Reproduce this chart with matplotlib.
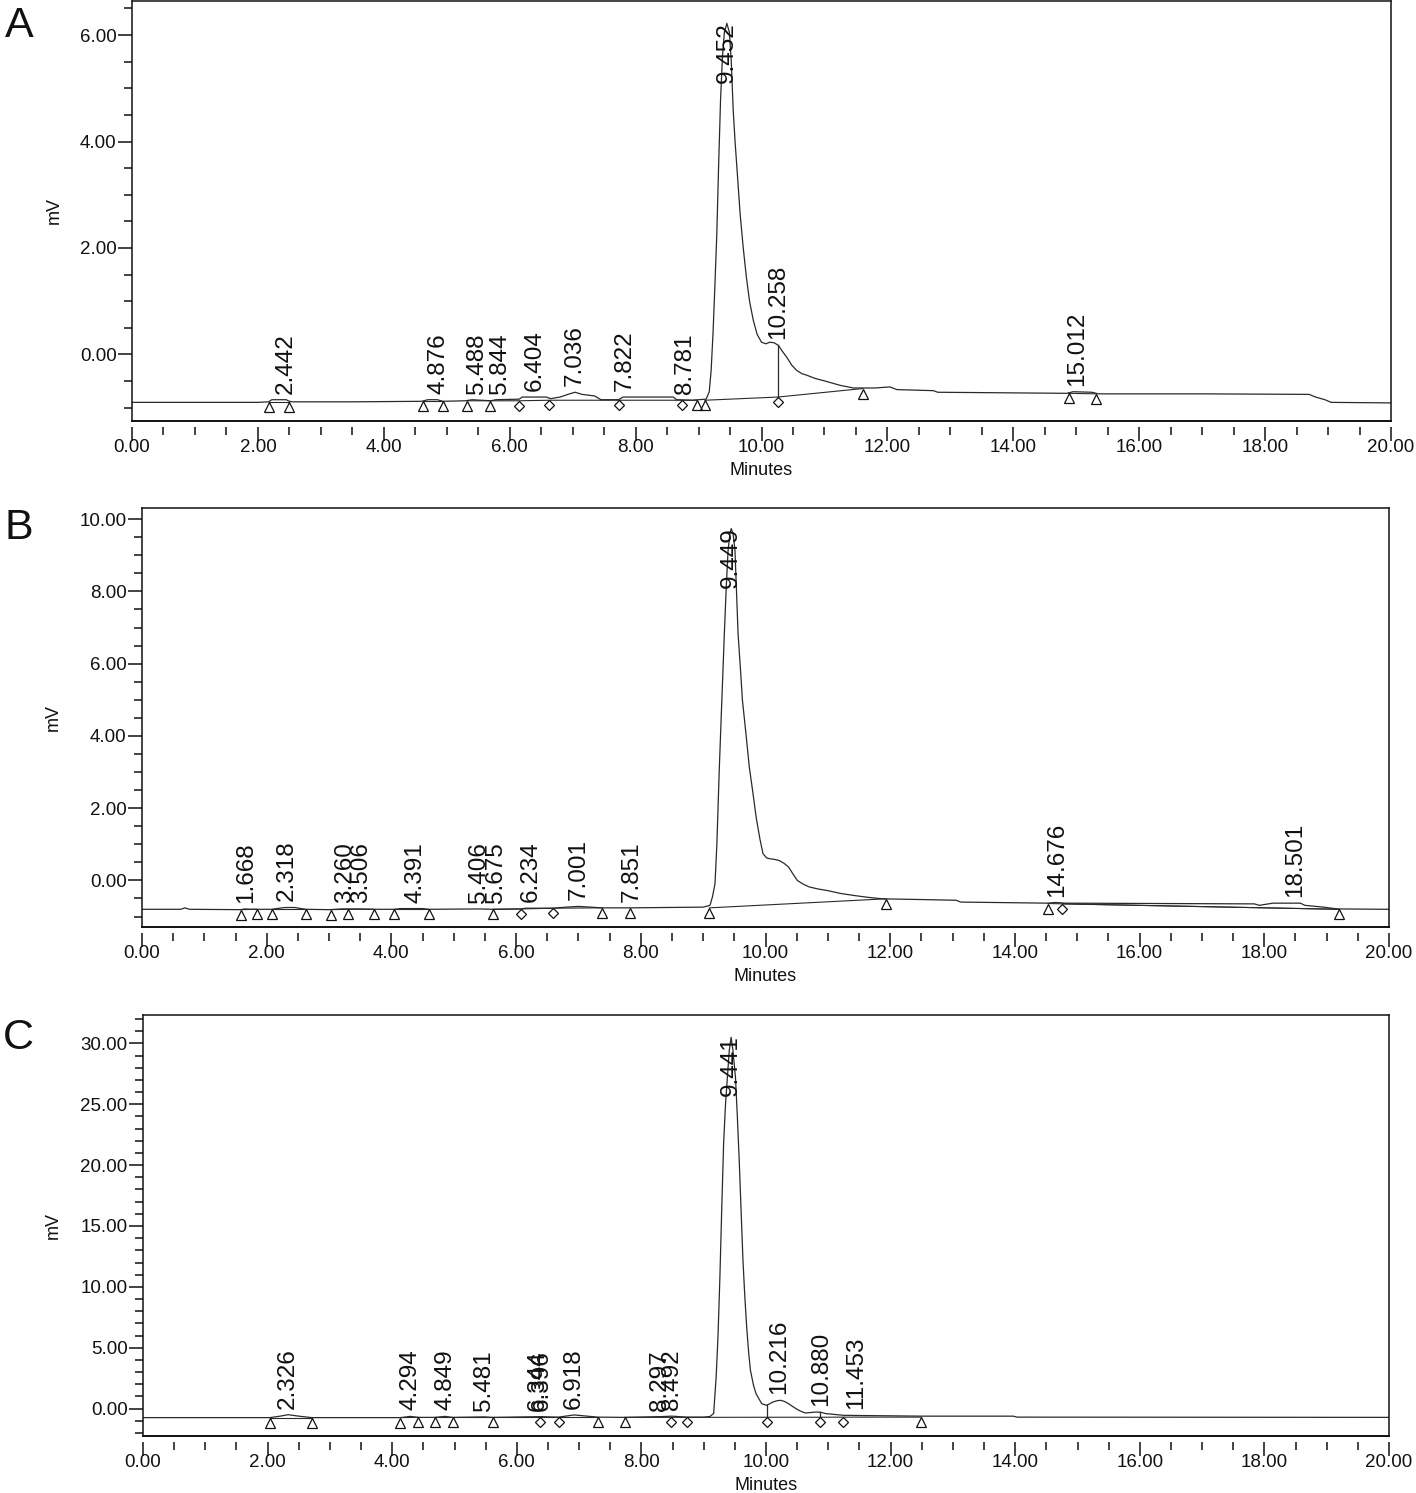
import numpy as np
import matplotlib
matplotlib.use("Agg")
import matplotlib.pyplot as plt
from matplotlib.ticker import MultipleLocator, FormatStrFormatter
from matplotlib.transforms import offset_copy

plt.rcParams['font.family'] = ['Liberation Sans', 'DejaVu Sans']

# ---------------- Panel A ----------------
a_time = [0.0, 1.0, 2.0, 2.17, 2.22, 2.45, 2.50, 2.55, 3.5, 4.6, 4.70, 4.85, 4.94, 5.3, 5.40,
          5.55, 5.70, 5.78, 6.15, 6.20, 6.58, 6.65, 6.80, 6.95, 7.04, 7.15, 7.35, 7.45, 7.73,
          7.80, 8.60, 8.65, 8.90, 9.00, 9.12, 9.17, 9.20, 9.23, 9.26, 9.29, 9.32, 9.35, 9.38,
          9.41, 9.45, 9.49, 9.52, 9.55, 9.58, 9.61, 9.66, 9.71, 9.76, 9.81, 9.87, 9.93, 10.0,
          10.07, 10.13, 10.20, 10.27, 10.33, 10.40, 10.48, 10.56, 10.64, 10.72, 10.85, 10.98,
          11.25, 11.46, 11.8, 12.04, 12.15, 12.73, 12.80, 14.85, 14.95, 15.25, 15.35, 17.0,
          18.70, 18.80, 18.95, 19.05, 20.0]
a_mv = [-0.90, -0.90, -0.90, -0.89, -0.85, -0.85, -0.88, -0.89, -0.89, -0.88, -0.85, -0.85,
        -0.88, -0.87, -0.85, -0.86, -0.87, -0.85, -0.84, -0.80, -0.80, -0.83, -0.80, -0.74,
        -0.71, -0.75, -0.78, -0.85, -0.85, -0.80, -0.80, -0.85, -0.86, -0.85, -0.84, -0.70,
        -0.30, 0.40, 1.30, 2.27, 3.60, 4.80, 5.60, 6.05, 6.22, 6.05, 5.50, 4.60, 4.00, 3.50,
        2.65, 2.00, 1.45, 1.00, 0.64, 0.38, 0.23, 0.20, 0.23, 0.22, 0.17, 0.06, -0.05, -0.20,
        -0.30, -0.36, -0.39, -0.45, -0.49, -0.58, -0.63, -0.63, -0.61, -0.66, -0.68, -0.71,
        -0.73, -0.70, -0.71, -0.74, -0.74, -0.75, -0.80, -0.85, -0.90, -0.91]
a_labels = ['2.442', '4.876', '5.488', '5.844', '6.404', '7.036', '7.822', '8.781', '9.452',
            '10.258', '15.012']
a_tri_t = [2.17, 2.50, 4.63, 4.94, 5.32, 5.69, 8.98, 9.10, 11.61, 14.88, 15.32]
a_tri_v = [-0.89, -0.89, -0.88, -0.88, -0.87, -0.87, -0.86, -0.86, -0.64, -0.73, -0.74]
a_dia_t = [6.15, 6.63, 7.73, 8.73, 10.26]
a_dia_v = [-0.87, -0.86, -0.86, -0.86, -0.80]
a_int_t = [[2.17, 2.50], [4.63, 4.94], [5.32, 5.69, 6.15, 6.63, 7.73, 8.73, 8.98],
           [9.10, 10.26, 11.61], [14.88, 15.32]]
a_int_v = [[-0.89, -0.89], [-0.88, -0.88], [-0.87, -0.87, -0.87, -0.86, -0.86, -0.86, -0.86],
           [-0.86, -0.80, -0.64], [-0.73, -0.74]]
a_drops = [10.26]

# ---------------- Panel B ----------------
b_time = [0.0, 0.62, 0.69, 0.76, 1.58, 1.65, 1.75, 2.08, 2.20, 2.30, 2.45, 2.55, 2.63, 3.0,
          3.2, 3.5, 3.72, 4.04, 4.15, 4.5, 4.61, 5.4, 5.63, 6.08, 6.15, 6.59, 6.8, 7.0, 7.2,
          7.38, 7.82, 9.0, 9.11, 9.15, 9.19, 9.22, 9.26, 9.30, 9.34, 9.37, 9.40, 9.43, 9.45,
          9.48, 9.51, 9.535, 9.56, 9.60, 9.63, 9.69, 9.74, 9.80, 9.85, 9.91, 9.96, 10.02,
          10.07, 10.15, 10.22, 10.30, 10.37, 10.44, 10.51, 10.60, 10.70, 10.85, 10.99, 11.2,
          11.43, 11.65, 11.88, 12.5, 13.06, 13.13, 14.53, 14.65, 14.8, 17.84, 17.92, 18.14,
          18.58, 18.65, 18.95, 19.17, 20.0]
b_mv = [-0.80, -0.80, -0.76, -0.80, -0.81, -0.79, -0.80, -0.80, -0.77, -0.75, -0.75, -0.78,
        -0.80, -0.81, -0.79, -0.79, -0.80, -0.80, -0.78, -0.78, -0.80, -0.79, -0.80, -0.79,
        -0.77, -0.77, -0.74, -0.72, -0.74, -0.76, -0.76, -0.74, -0.69, -0.45, -0.09, 1.00,
        3.14, 5.00, 6.83, 8.10, 9.14, 9.60, 9.74, 9.60, 9.14, 8.00, 6.83, 5.80, 4.99, 4.00,
        3.14, 2.40, 1.75, 1.15, 0.74, 0.62, 0.60, 0.58, 0.55, 0.47, 0.37, 0.18, 0.00, -0.10,
        -0.18, -0.24, -0.28, -0.36, -0.42, -0.47, -0.51, -0.53, -0.55, -0.60, -0.63, -0.61,
        -0.63, -0.65, -0.69, -0.63, -0.63, -0.69, -0.74, -0.79, -0.80]
b_labels = ['1.668', '2.318', '3.260', '3.506', '4.391', '5.406', '5.675', '6.234', '7.001',
            '7.851', '9.449', '14.676', '18.501']
b_tri_t = [1.58, 1.84, 2.08, 2.63, 3.03, 3.31, 3.72, 4.04, 4.61, 5.63, 7.38, 7.82, 9.10,
           11.93, 14.53, 19.20]
b_tri_v = [-0.81, -0.80, -0.80, -0.80, -0.81, -0.80, -0.80, -0.80, -0.80, -0.80, -0.76,
           -0.76, -0.76, -0.51, -0.64, -0.80]
b_dia_t = [6.08, 6.59, 14.76]
b_dia_v = [-0.79, -0.77, -0.65]
b_int_t = [[1.58, 1.84], [2.08, 2.63], [3.03, 3.31, 3.72], [4.04, 4.61], [5.63, 6.08, 6.59, 7.38],
           [9.10, 11.93], [14.53, 19.20], [14.76, 19.20]]
b_int_v = [[-0.81, -0.80], [-0.80, -0.80], [-0.81, -0.80, -0.80], [-0.80, -0.80],
           [-0.80, -0.79, -0.77, -0.76], [-0.76, -0.51], [-0.64, -0.80], [-0.65, -0.80]]
b_drops = []

# ---------------- Panel C ----------------
c_time = [0.0, 2.04, 2.20, 2.33, 2.50, 2.71, 4.13, 4.29, 4.42, 4.68, 4.85, 4.97, 5.48, 5.61,
          6.38, 6.67, 6.92, 7.30, 7.73, 8.30, 8.49, 8.73, 9.00, 9.10, 9.16, 9.20, 9.23, 9.26,
          9.29, 9.32, 9.35, 9.38, 9.41, 9.44, 9.47, 9.51, 9.54, 9.57, 9.60, 9.63, 9.66, 9.69,
          9.72, 9.75, 9.80, 9.84, 9.93, 10.01, 10.06, 10.11, 10.18, 10.24, 10.30, 10.36,
          10.42, 10.48, 10.55, 10.63, 10.72, 10.81, 10.88, 10.96, 11.24, 11.54, 12.51, 13.97,
          14.03, 20.0]
c_mv = [-0.74, -0.74, -0.62, -0.50, -0.62, -0.74, -0.74, -0.64, -0.72, -0.72, -0.64, -0.72,
        -0.68, -0.72, -0.66, -0.70, -0.52, -0.70, -0.72, -0.66, -0.62, -0.70, -0.70, -0.65,
        -0.40, 2.60, 6.00, 10.80, 16.50, 21.80, 25.00, 27.20, 29.40, 30.50, 29.40, 27.20,
        24.00, 20.40, 16.30, 12.20, 9.20, 6.70, 4.70, 3.15, 1.90, 1.23, 0.41, 0.27, 0.40,
        0.54, 0.65, 0.68, 0.58, 0.41, 0.20, 0.00, -0.20, -0.36, -0.32, -0.28, -0.30, -0.41,
        -0.55, -0.57, -0.62, -0.62, -0.70, -0.72]
c_labels = ['2.326', '4.294', '4.849', '5.481', '6.344', '6.396', '6.918', '8.297', '8.492',
            '9.441', '10.216', '10.880', '11.453']
c_tri_t = [2.04, 2.71, 4.13, 4.42, 4.68, 4.97, 5.61, 7.30, 7.73, 12.49]
c_tri_v = [-0.74, -0.74, -0.74, -0.72, -0.72, -0.72, -0.72, -0.72, -0.72, -0.70]
c_dia_t = [6.38, 6.67, 8.47, 8.73, 10.01, 10.86, 11.24]
c_dia_v = [-0.72, -0.72, -0.72, -0.72, -0.71, -0.71, -0.70]
c_int_t = [[2.04, 2.71], [4.13, 4.42], [4.68, 4.97, 5.61, 6.38, 6.67, 7.30],
           [7.73, 8.47, 8.73, 10.01, 10.86, 11.24, 12.49]]
c_int_v = [[-0.74, -0.74], [-0.74, -0.72], [-0.72, -0.72, -0.72, -0.72, -0.72, -0.72],
           [-0.72, -0.72, -0.72, -0.71, -0.71, -0.70, -0.70]]
c_drops = [10.01, 10.86]

W, H = 1416, 1493
fig = plt.figure(figsize=(W / 100, H / 100), dpi=100)

panels = [
    dict(letter='A', box=(132, 1, 1391, 421), ylim=(-1.25, 6.64), major=2, minor=0.5,
         t=a_time, v=a_mv, labels=a_labels, tri=(a_tri_t, a_tri_v), dia=(a_dia_t, a_dia_v),
         it=a_int_t, iv=a_int_v, drops=a_drops, lpos=(5, 6), ylab_x=63),
    dict(letter='B', box=(142, 508, 1389, 927), ylim=(-1.29, 10.31), major=2, minor=0.5,
         t=b_time, v=b_mv, labels=b_labels, tri=(b_tri_t, b_tri_v), dia=(b_dia_t, b_dia_v),
         it=b_int_t, iv=b_int_v, drops=b_drops, lpos=(5, 508), ylab_x=62),
    dict(letter='C', box=(143, 1015, 1389, 1436), ylim=(-2.25, 32.33), major=5, minor=1,
         t=c_time, v=c_mv, labels=c_labels, tri=(c_tri_t, c_tri_v), dia=(c_dia_t, c_dia_v),
         it=c_int_t, iv=c_int_v, drops=c_drops, lpos=(3, 1018), ylab_x=62),
]

line_col = '#2a2a2a'
txt_col = '#111111'

for p in panels:
    x0, y0, x1, y1 = p['box']
    ax = fig.add_axes([x0 / W, 1 - y1 / H, (x1 - x0) / W, (y1 - y0) / H])
    ax.set_xlim(0, 20)
    ax.set_ylim(*p['ylim'])
    t = np.array(p['t'])
    v = np.array(p['v'])
    ax.plot(t, v, color=line_col, lw=0.9)
    for it, iv in zip(p['it'], p['iv']):
        ax.plot(it, iv, color=line_col, lw=0.8)
    for dt in p['drops']:
        base = None
        for it, iv in zip(p['it'], p['iv']):
            if it[0] <= dt <= it[-1]:
                base = np.interp(dt, it, iv)
        sig = np.interp(dt, t, v)
        ax.plot([dt, dt], [base, sig], color=line_col, lw=0.9)
    mtrans = offset_copy(ax.transData, fig=fig, x=0, y=-5, units='dots')
    ax.plot(p['tri'][0], p['tri'][1], ls='none', marker='^', ms=6.5, mfc='none', mec='#111',
            mew=0.9, transform=mtrans, clip_on=False)
    ax.plot(p['dia'][0], p['dia'][1], ls='none', marker='D', ms=4.6, mfc='none', mec='#111',
            mew=0.9, transform=mtrans, clip_on=False)
    # peak labels
    imax = int(np.argmax(v))
    for lab in p['labels']:
        lt = float(lab)
        lv = np.interp(lt, t, v)
        if abs(lt - t[imax]) < 0.05:
            tr = offset_copy(ax.transData, fig=fig, x=0, y=2, units='dots')
            ax.text(lt, lv, lab, rotation=90, ha='center', va='top', fontsize=17.5,
                    color=txt_col, transform=tr)
        else:
            tr = offset_copy(ax.transData, fig=fig, x=0, y=6, units='dots')
            ax.text(lt, lv, lab, rotation=90, ha='center', va='bottom', fontsize=17.5,
                    color=txt_col, transform=tr)

    # axes styling
    for s in ['top', 'left', 'right']:
        ax.spines[s].set_linewidth(1.1)
        ax.spines[s].set_color('#111')
    ax.spines['bottom'].set_position(('outward', 4))
    ax.spines['bottom'].set_visible(False)
    ax.plot([0, 1], [0, 0], transform=ax.transAxes, color='#111', lw=1.4, clip_on=False)
    ax.xaxis.set_major_locator(MultipleLocator(2))
    ax.xaxis.set_minor_locator(MultipleLocator(0.5))
    ax.xaxis.set_major_formatter(FormatStrFormatter('%.2f'))
    ax.yaxis.set_major_locator(MultipleLocator(p['major']))
    ax.yaxis.set_minor_locator(MultipleLocator(p['minor']))
    ax.yaxis.set_major_formatter(FormatStrFormatter('%.2f'))
    ax.tick_params(axis='both', which='major', direction='out', length=10, width=1.1,
                   labelsize=13.5, colors='#111', pad=1)
    ax.tick_params(axis='both', which='minor', direction='out', length=6, width=1.1,
                   colors='#111')
    ax.tick_params(axis='x', which='major', length=10, pad=-1)
    ax.set_xlabel('Minutes', fontsize=13, color=txt_col, labelpad=4)
    ax.set_ylabel('mV', fontsize=13, color=txt_col)
    ax.yaxis.set_label_coords((p['ylab_x'] - x0) / (x1 - x0), 0.5)
    fig.text(p['lpos'][0] / W, 1 - p['lpos'][1] / H, p['letter'], fontsize=31,
             color=txt_col, ha='left', va='top')

fig.savefig('out.png', dpi=100)
